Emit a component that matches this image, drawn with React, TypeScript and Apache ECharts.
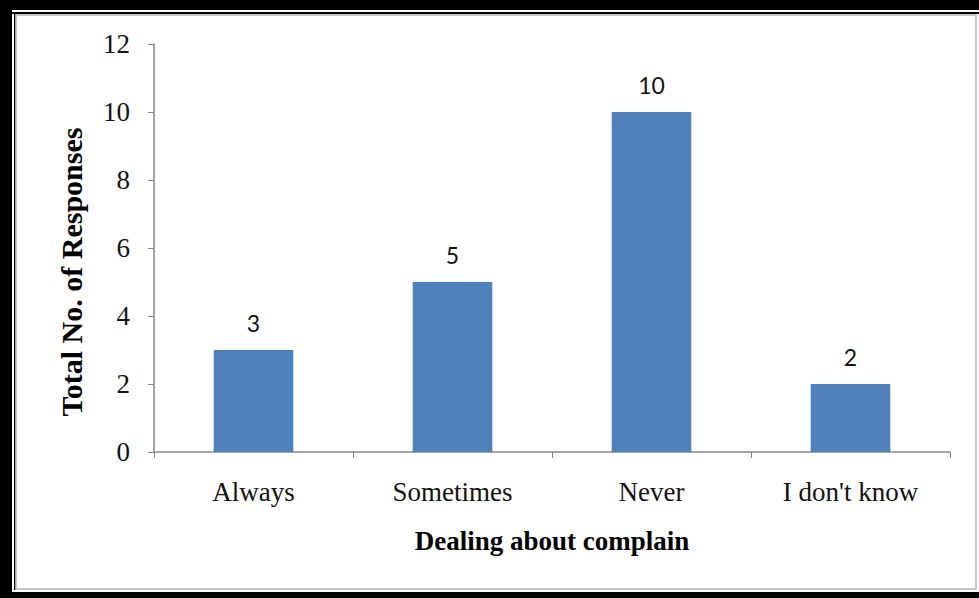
import React, { useEffect, useRef } from "react";
import * as echarts from "echarts";

const categories = ["Always", "Sometimes", "Never", "I don't know"];
const responses = [3, 5, 10, 2];
const yTicks = { min: 0, max: 12, interval: 2 };

const serif = "'Liberation Serif', 'Times New Roman', serif";
const sans = "Lato, 'Open Sans', sans-serif";
const axisGray = "#868686";

export default function App() {
  const ref = useRef<HTMLDivElement>(null);

  useEffect(() => {
    if (!ref.current) return;
    const chart = echarts.init(ref.current, null, { renderer: "svg" });
    chart.setOption({
      animation: false,
      backgroundColor: "#ffffff",
      graphic: [
        // outer black frame (top, left, bottom)
        { type: "rect", shape: { x: 0, y: 0, width: 979, height: 10 }, style: { fill: "#000" }, z: 0 },
        { type: "rect", shape: { x: 0, y: 0, width: 12, height: 598 }, style: { fill: "#000" }, z: 0 },
        { type: "rect", shape: { x: 0, y: 592, width: 979, height: 6 }, style: { fill: "#000" }, z: 0 },
        // inner thin black rule
        { type: "rect", shape: { x: 12, y: 12, width: 967, height: 2 }, style: { fill: "#000" }, z: 0 },
        { type: "rect", shape: { x: 14, y: 12, width: 1.5, height: 578 }, style: { fill: "#000" }, z: 0 },
        // grey inset border of the chart area
        {
          type: "rect",
          shape: { x: 16, y: 15, width: 960, height: 574 },
          style: { fill: "none", stroke: "#b4b4b4", lineWidth: 1.5 },
          z: 0,
        },
      ],
      grid: { left: 154, right: 29, top: 44, bottom: 146 },
      xAxis: {
        type: "category",
        data: categories,
        name: "Dealing about complain",
        nameLocation: "middle",
        nameGap: 75,
        nameTextStyle: { fontFamily: serif, fontWeight: "bold", fontSize: 27, color: "#000" },
        axisLine: { lineStyle: { color: axisGray, width: 1.5 } },
        axisTick: { show: true, length: 6, lineStyle: { color: axisGray } },
        axisLabel: { fontFamily: serif, fontSize: 27, color: "#111", margin: 26 },
      },
      yAxis: {
        type: "value",
        min: yTicks.min,
        max: yTicks.max,
        interval: yTicks.interval,
        name: "Total No. of Responses",
        nameLocation: "middle",
        nameGap: 68,
        nameTextStyle: {
          fontFamily: serif,
          fontWeight: "bold",
          fontSize: 30,
          color: "#000",
          padding: [0, 48, 0, 0],
        },
        splitLine: { show: false },
        axisLine: { show: true, lineStyle: { color: axisGray, width: 1.5 } },
        axisTick: { show: true, length: 6, lineStyle: { color: axisGray } },
        axisLabel: { fontFamily: serif, fontSize: 27, color: "#111", margin: 24 },
      },
      series: [
        {
          type: "bar",
          data: responses,
          barWidth: "40%",
          itemStyle: { color: "#4F81BD" },
          label: {
            show: true,
            position: "top",
            distance: 16,
            fontFamily: sans,
            fontSize: 23,
            color: "#111",
          },
        },
      ],
    });
    return () => chart.dispose();
  }, []);

  return (
    <div
      ref={ref}
      style={{ position: "fixed", left: 0, top: 0, width: 979, height: 598 }}
    />
  );
}
